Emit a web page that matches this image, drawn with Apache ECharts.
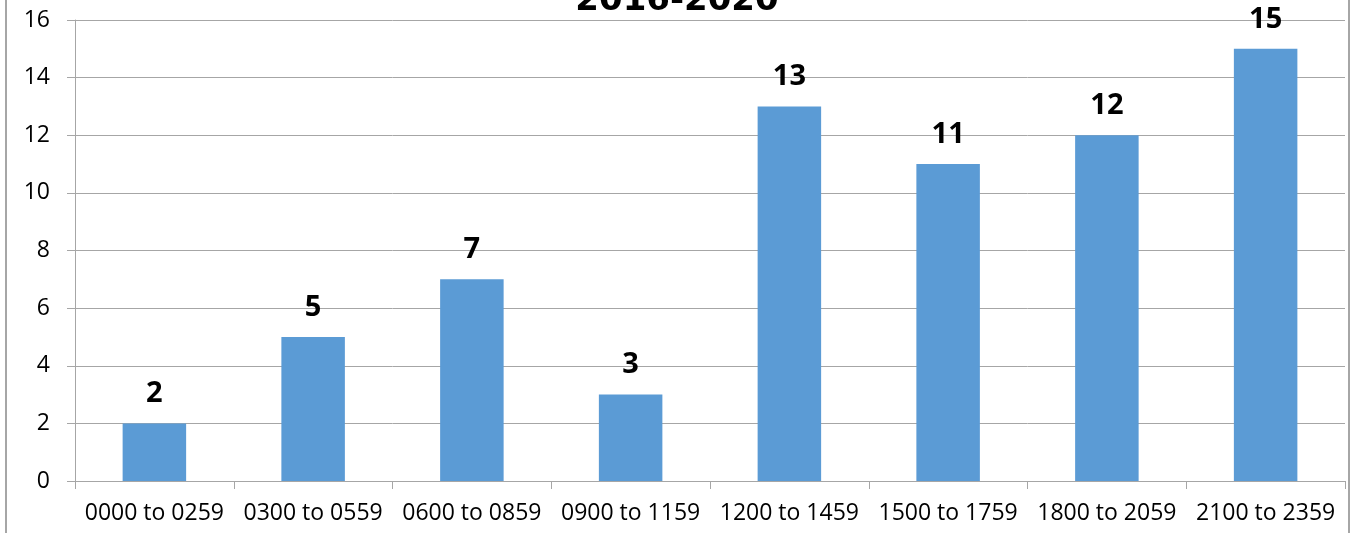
<!DOCTYPE html>
<html>
<head>
<meta charset="utf-8">
<script src="https://cdn.jsdelivr.net/npm/echarts@6/dist/echarts.min.js"></script>
<style>html,body{margin:0;padding:0;background:#fff;}#c{width:1354px;height:533px;}</style>
</head>
<body>
<div id="c"></div>
<script>
var categories = ['0000 to 0259','0300 to 0559','0600 to 0859','0900 to 1159','1200 to 1459','1500 to 1759','1800 to 2059','2100 to 2359'];
var values = [2, 5, 7, 3, 13, 11, 12, 15];
var titleText = '2016-2020';
var yMin = 0, yMax = 16, yInterval = 2;

var chart = echarts.init(document.getElementById('c'));
chart.setOption({
  animation: false,
  title: {
    text: titleText,
    left: 'center',
    top: -21,
    textStyle: {fontFamily: 'DejaVu Sans', fontWeight: 'bold', fontSize: 34, color: '#000'}
  },
  grid: {left: 75, right: 9, top: 20, bottom: 52, containLabel: false},
  xAxis: {
    type: 'category',
    data: categories,
    axisLine: {lineStyle: {color: '#A6A6A6', width: 1}},
    axisTick: {show: true, length: 8, alignWithLabel: false, lineStyle: {color: '#A6A6A6'}},
    axisLabel: {color: '#000', fontFamily: 'Open Sans', fontSize: 23, margin: 21, interval: 0}
  },
  yAxis: {
    type: 'value',
    min: yMin, max: yMax, interval: yInterval,
    axisLine: {show: true, lineStyle: {color: '#A6A6A6', width: 1}},
    axisTick: {show: true, length: 8, lineStyle: {color: '#A6A6A6'}},
    splitLine: {show: true, lineStyle: {color: '#A6A6A6', width: 1}},
    axisLabel: {color: '#000', fontFamily: 'Open Sans', fontSize: 23, margin: 25}
  },
  series: [{
    type: 'bar',
    data: values,
    barWidth: '40%',
    itemStyle: {color: '#5B9BD5'},
    label: {show: true, position: 'top', distance: 15, color: '#000', fontFamily: 'Open Sans', fontWeight: 'bold', fontSize: 29}
  }],
  graphic: [
    {type: 'line', shape: {x1: 6, y1: 0, x2: 6, y2: 533}, style: {stroke: '#A6A6A6', lineWidth: 2}},
    {type: 'line', shape: {x1: 1349, y1: 0, x2: 1349, y2: 533}, style: {stroke: '#A6A6A6', lineWidth: 2}}
  ]
});
</script>
</body>
</html>
